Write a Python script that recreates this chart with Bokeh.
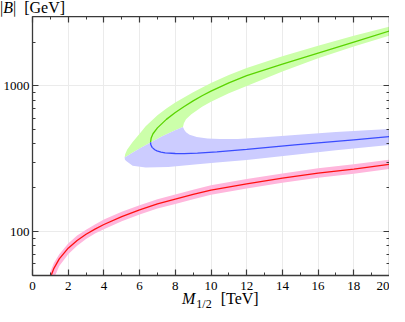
from bokeh.plotting import figure
from bokeh.models import FixedTicker, LinearAxis, LogAxis, CustomJSTickFormatter, Div
from bokeh.layouts import column
from bokeh.embed import file_html
from bokeh.resources import INLINE

# ---------------- data ----------------
# red curve and its band
red_x = [0.9, 1.0, 1.2, 1.5, 2.0, 2.5, 3.0, 3.5, 4.0, 5.0, 6.0, 7.0, 8.0, 9.0, 10.0, 12.0, 14.0, 16.0, 18.0, 20.0]
red_y = [45, 48.5, 56, 65, 77, 87, 96, 104, 112, 127, 141, 155, 167, 180, 193, 213, 233, 252, 269, 290]
red_up_x = [0.85, 0.96, 1.0, 1.2, 1.5, 2.0, 2.5, 3.0, 3.5, 4.0, 5.0, 6.0, 7.0, 8.0, 9.0, 10.0, 12.0, 14.0, 16.0, 18.0, 20.0]
red_up_y = [45, 50, 53, 61, 70, 83, 94, 103, 112, 121, 137, 152, 167, 180, 194, 208, 230, 251, 272, 290, 312]
red_lo_x = [1.15, 1.27, 1.5, 2.0, 2.5, 3.0, 3.5, 4.0, 5.0, 6.0, 7.0, 8.0, 9.0, 10.0, 12.0, 14.0, 16.0, 18.0, 20.0]
red_lo_y = [47, 50, 58, 70, 80, 89, 97, 104, 118, 131, 144, 155, 167, 179, 198, 217, 234, 250, 270]

# green curve (upper branch) and blue curve (lower branch) meeting at the fold
green_x = [6.61, 6.65, 6.75, 7.0, 7.5, 8.0, 8.5, 9.0, 9.5, 10.0, 11.0, 12.0, 14.0, 16.0, 18.0, 20.0]
green_y = [410, 440, 470, 516, 590, 658, 724, 791, 857, 923, 1052, 1180, 1413, 1683, 2004, 2388]
blue_x = [6.61, 6.63, 6.70, 6.85, 6.97, 7.2, 7.43, 8.0, 8.5, 9.24, 10.33, 12.0, 14.7, 16.0, 18.0, 20.0]
blue_y = [410, 395, 379, 365, 359, 352, 347, 344, 343, 346, 353, 367, 394, 407, 427, 449]

# band edges
tip_diag_x = [5.16, 5.62, 5.95, 6.61, 7.27, 7.93, 8.43]
tip_diag_y = [323, 349, 369, 410, 451, 492, 523]
green_up_x = [5.16, 5.19, 5.3, 5.61, 6.0, 6.34, 7.0, 7.5, 8.0, 9.0, 10.0, 11.0, 12.0, 14.0, 16.0, 18.0, 20.0]
green_up_y = [323, 340, 365, 412, 470, 530, 630, 700, 770, 905, 1050, 1190, 1330, 1600, 1890, 2210, 2560]
green_lo_x = [8.43, 8.48, 8.6, 8.9, 9.5, 10.0, 11.0, 12.0, 14.0, 16.0, 18.0, 20.0]
green_lo_y = [523, 555, 590, 640, 720, 780, 890, 1000, 1260, 1550, 1870, 2220]
blue_up_x = [8.43, 8.5, 8.6, 8.8, 9.2, 9.8, 10.5, 11.5, 13.0, 14.7, 17.0, 20.0]
blue_up_y = [523, 500, 482, 462, 446, 436, 432, 433, 445, 461, 483, 507]
blue_lo_x = [5.16, 5.18, 5.25, 5.61, 6.34, 7.61, 9.24, 10.33, 12.0, 14.7, 17.0, 20.0]
blue_lo_y = [323, 312, 306, 283, 276, 278, 290, 298, 311, 337, 362, 394]

# ticks
x_ticks = [0, 2, 4, 6, 8, 10, 12, 14, 16, 18, 20]
x_minor = [1, 3, 5, 7, 9, 11, 13, 15, 17, 19]
y_ticks = [100, 1000]
y_minor = [50, 60, 70, 80, 90, 200, 300, 400, 500, 600, 700, 800, 900, 2000, 3000]
y_labels = {100: "100", 1000: "1000"}

# titles
y_title = "|<i>B</i>|<span style='margin-left:8px'>[GeV]</span>"
x_title = ("<i>M</i><span style='font-size:12px;position:relative;top:4px;margin-left:1px'>1/2</span>"
           "<span style='margin-left:9px'>[TeV]</span>")

# ---------------- styles ----------------
FONT = "Liberation Serif"
AX = "#3a3a3a"
RED, RED_BAND = "#ff1010", "#ffb6dc"
GREEN, GREEN_BAND = "#5ad400", "#ccffaa"
BLUE, BLUE_BAND = "#3a4cff", "#ccccff"

W = 389
TOP_H, FIG_H, BOT_H = 16, 276, 14
p = figure(width=W, height=FIG_H, x_range=(0, 20), y_range=(50, 3000),
           y_axis_type="log", output_backend="svg", toolbar_location=None,
           min_border_left=0, min_border_right=0, min_border_top=0, min_border_bottom=0)
p.outline_line_color = None
p.background_fill_color = "white"
p.border_fill_color = "white"

xt = FixedTicker(ticks=x_ticks, minor_ticks=x_minor)
yt = FixedTicker(ticks=y_ticks, minor_ticks=y_minor)


def style_axis(ax):
    ax.axis_line_color = AX
    ax.axis_line_width = 1.3
    ax.major_tick_line_color = AX
    ax.minor_tick_line_color = AX
    ax.major_tick_in = 6
    ax.major_tick_out = 0
    ax.minor_tick_in = 3
    ax.minor_tick_out = 0
    ax.major_tick_line_width = 1.2
    ax.minor_tick_line_width = 1.0
    ax.major_label_text_font = FONT
    ax.major_label_text_color = "black"
    ax.major_label_text_font_size = "13px"


xa = p.xaxis[0]
xa.ticker = xt
style_axis(xa)
xa.major_label_standoff = 6
ya = p.yaxis[0]
ya.ticker = yt
ya.major_label_overrides = y_labels
style_axis(ya)
ya.major_label_standoff = 3

# frame-closing axes (ticks only, no labels)
blank = CustomJSTickFormatter(code="return ''")
top = LinearAxis(ticker=xt, formatter=blank)
style_axis(top)
top.major_label_text_font_size = "1px"
top.major_label_standoff = 0
p.add_layout(top, "above")
right = LogAxis(ticker=yt, formatter=blank)
style_axis(right)
right.major_label_text_font_size = "1px"
right.major_label_standoff = 0
p.add_layout(right, "right")

p.xgrid.ticker = xt
p.ygrid.ticker = yt
p.xgrid.grid_line_color = "#ebebeb"
p.ygrid.grid_line_color = "#ebebeb"

# ---------------- bands ----------------
p.patch(green_up_x + green_lo_x[::-1] + tip_diag_x[::-1],
        green_up_y + green_lo_y[::-1] + tip_diag_y[::-1],
        fill_color=GREEN_BAND, line_color=None)
p.patch(tip_diag_x + blue_up_x + blue_lo_x[::-1],
        tip_diag_y + blue_up_y + blue_lo_y[::-1],
        fill_color=BLUE_BAND, line_color=None)
p.patch(red_up_x + red_lo_x[::-1], red_up_y + red_lo_y[::-1],
        fill_color=RED_BAND, line_color=None)

# ---------------- curves ----------------
p.line(green_x, green_y, line_color=GREEN, line_width=1.3)
p.line(blue_x, blue_y, line_color=BLUE, line_width=1.3)
p.line(red_x, red_y, line_color=RED, line_width=1.3)

# ---------------- axis titles (HTML text around the figure) ----------------
base_style = {"font-family": FONT, "font-size": "16px", "color": "black", "white-space": "nowrap"}
top_div = Div(text=y_title, width=W, height=TOP_H, margin=(0, 0, 0, 0),
              styles=dict(base_style, **{"line-height": "16px"}))
bottom_div = Div(text=x_title, width=W, height=BOT_H, margin=(0, 0, 0, 0),
                 styles=dict(base_style, **{"line-height": "14px", "padding-left": "182px"}))

layout = column(top_div, p, bottom_div, spacing=0)
open("out.html", "w").write(file_html(layout, INLINE))
